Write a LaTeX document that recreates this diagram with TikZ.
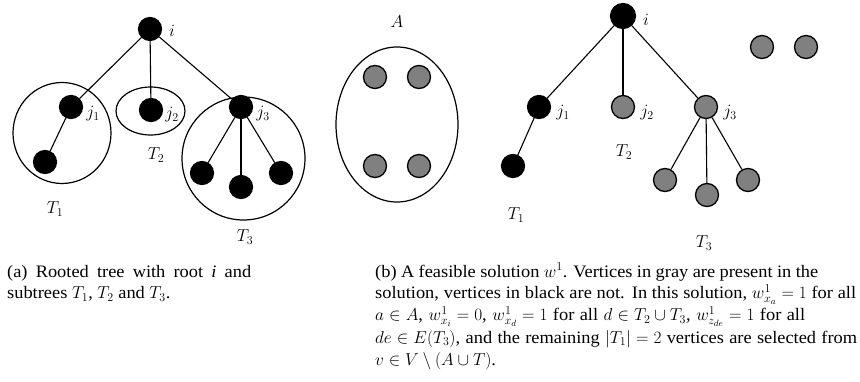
\documentclass[tikz,border=0pt]{standalone}
\usepackage{fontspec}
\setmainfont[FakeStretch=1.05]{Liberation Serif}
\usetikzlibrary{shapes.geometric}
\newcommand{\capline}[2]{\hbox to #1{\spaceskip=0.25em plus 1em minus 0.1em\relax #2}}
\newcommand{\capnat}[1]{\hbox{#1}}
\tikzset{
  blk/.style={circle, fill=black, draw=black, line width=1.2pt, minimum size=23pt, inner sep=0pt},
  gry/.style={circle, fill={rgb,255:red,128;green,128;blue,128}, draw=black, line width=1.3pt, minimum size=23pt, inner sep=0pt},
  conn/.style={line width=1.1pt},
  ring/.style={ellipse, draw=black, line width=1.2pt, inner sep=0pt},
  lab/.style={inner sep=0pt, font=\fontsize{18}{20}\selectfont},
  captxt/.style={inner sep=0pt, anchor=base west, font=\fontsize{17.5}{21}\selectfont}
}
\begin{document}
\begin{tikzpicture}[x=1pt, y=-1pt]
\useasboundingbox (0,0) rectangle (860,381);
% ---------- (a) ----------
\node[ring, minimum width=98pt, minimum height=101pt] (ra1) at (62,133) {};
\node[ring, minimum width=69pt, minimum height=48pt] (ra2) at (150.5,111) {};
\node[ring, minimum width=123pt, minimum height=123pt] (ra3) at (243.5,158.5) {};
\node[blk] (ai) at (150,29) {};
\node[blk] (aj1) at (71,107) {};
\node[blk] (aj2) at (151,110) {};
\node[blk] (aj3) at (241,107) {};
\node[blk] (ac1) at (45,162) {};
\node[blk] (ac3a) at (202,173) {};
\node[blk] (ac3b) at (241,187) {};
\node[blk] (ac3c) at (281,173) {};
\draw[conn] (ai) -- (aj1);
\draw[conn] (ai) -- (aj2);
\draw[conn] (ai) -- (aj3);
\draw[conn] (aj1) -- (ac1);
\draw[conn] (aj3) -- (ac3a);
\draw[conn] (aj3) -- (ac3b);
\draw[conn] (aj3) -- (ac3c);
\node[lab] (lai) at (172,31) {$i$};
\node[lab] (laj1) at (93,114) {$j_1$};
\node[lab] (laj2) at (172,115) {$j_2$};
\node[lab] (laj3) at (263,114) {$j_3$};
\node[lab] (laT1) at (55,209) {$T_1$};
\node[lab] (laT2) at (156,155) {$T_2$};
\node[lab] (laT3) at (245,237) {$T_3$};
% ---------- (b) ----------
\node[ring, minimum width=122pt, minimum height=155pt] (rA) at (397,124.5) {};
\node[lab] (lA) at (397,22) {$A$};
\node[gry] (A1) at (375,77) {};
\node[gry] (A2) at (419,77) {};
\node[gry] (A3) at (375,166) {};
\node[gry] (A4) at (419,166) {};
\node[blk, minimum size=25pt] (bi) at (623,16) {};
\node[blk] (bj1) at (539,107) {};
\node[gry] (bj2) at (623,107) {};
\node[gry] (bj3) at (706,107) {};
\node[blk] (bc1) at (513,166) {};
\node[gry] (bc3a) at (665,180) {};
\node[gry] (bc3b) at (707,195) {};
\node[gry] (bc3c) at (748,180) {};
\node[gry] (r1) at (762,47) {};
\node[gry] (r2) at (806,47) {};
\draw[conn] (bi) -- (bj1);
\draw[conn] (bi) -- (bj2);
\draw[conn] (bi) -- (bj3);
\draw[conn] (bj1) -- (bc1);
\draw[conn] (bj3) -- (bc3a);
\draw[conn] (bj3) -- (bc3b);
\draw[conn] (bj3) -- (bc3c);
\node[lab] (lbi) at (646,20) {$i$};
\node[lab] (lbj1) at (563,113) {$j_1$};
\node[lab] (lbj2) at (647,113) {$j_2$};
\node[lab] (lbj3) at (730,113) {$j_3$};
\node[lab] (lbT1) at (516,215) {$T_1$};
\node[lab] (lbT2) at (624,152) {$T_2$};
\node[lab] (lbT3) at (704,243) {$T_3$};
% ---------- captions ----------
\node[captxt] (capa1) at (7,277) {\capline{244pt}{(a) Rooted tree with root \textit{i} and}};
\node[captxt] (capa2) at (7,298.5) {\capnat{subtrees $T_1$, $T_2$ and $T_3$.}};
\node[captxt] (capb1) at (375,277) {\capline{443pt}{(b) A feasible solution $w^1$. Vertices in gray are present in the}};
\node[captxt] (capb2) at (375,298.5) {\capline{481pt}{solution, vertices in black are not. In this solution, $w^1_{x_a}=1$ for all}};
\node[captxt] (capb3) at (375,320.5) {\capline{430pt}{$a\in A$, $w^1_{x_i}=0$, $w^1_{x_d}=1$ for all $d\in T_2\cup T_3$, $w^1_{z_{de}}=1$ for all}};
\node[captxt] (capb4) at (375,343) {\capline{482pt}{$de\in E(T_3)$, and the remaining $|T_1|=2$ vertices are selected from}};
\node[captxt] (capb5) at (375,365) {\capnat{$v\in V\setminus(A\cup T)$.}};
\end{tikzpicture}
\end{document}
